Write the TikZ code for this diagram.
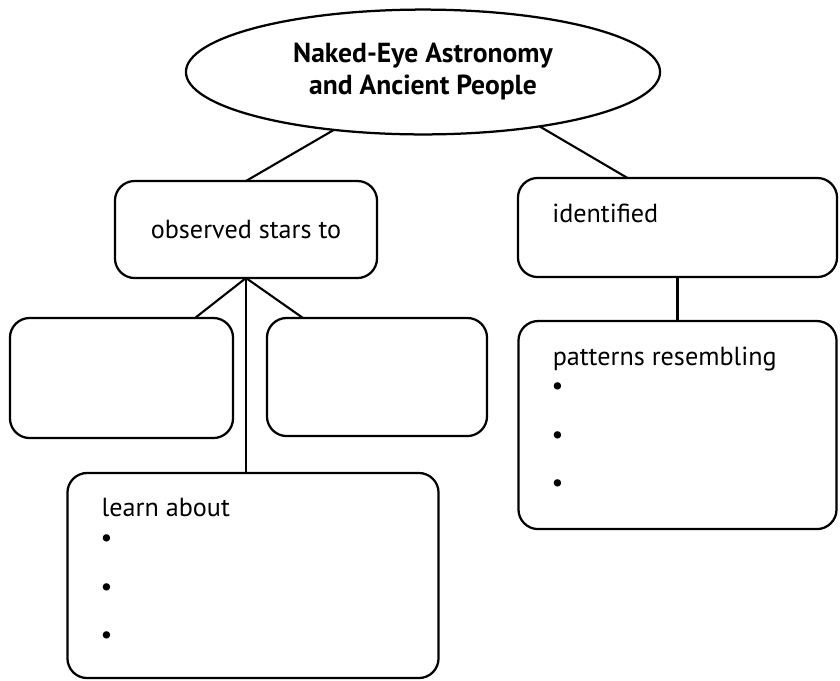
\documentclass[tikz,border=0pt]{standalone}
\usepackage{fontspec}
\setmainfont{PT Sans}
\usetikzlibrary{shapes.geometric, positioning, calc}

\begin{document}
\begin{tikzpicture}[
  x=0.025cm, y=-0.025cm,
  node distance=1.1cm,
  font=\fontsize{18.6}{21.5}\selectfont,
  topic/.style={ellipse, draw, line width=1.6pt, minimum width=11.85cm, minimum height=3.12cm,
              inner sep=0pt, outer sep=0pt, align=center, font=\fontsize{19.6}{22.8}\selectfont\bfseries},
  box/.style={rectangle, rounded corners=14pt, draw, line width=1.6pt, inner sep=0pt,
              outer sep=0pt, align=center},
  boxtxt/.style={anchor=base west, inner sep=0pt},
  dot/.style={inner sep=0pt},
  link/.style={line width=1.5pt},
]
\useasboundingbox (0,0) rectangle (840,680);

\node[topic] (title) at (423,72) {Naked-Eye Astronomy\\and Ancient People};

\node[box, minimum width=6.55cm, minimum height=2.425cm] (observed) at (246,229.5) {observed stars to};
\node[box, minimum width=7.975cm, minimum height=2.475cm] (identified) at (677.5,227.5) {};

\node[box, minimum width=5.575cm, minimum height=3cm] (leftblank) at (121.5,378) {};
\node[box, minimum width=5.5cm, minimum height=2.95cm] (rightblank) at (377,377) {};
\node[box, minimum width=9.275cm, minimum height=5.125cm] (learn) at (253,575.5) {};

\node[box, minimum width=7.95cm, minimum height=5.2cm, below=1.1cm of identified] (patterns) {};

% box texts
\node[boxtxt] (identtxt) at ($(identified.north west)+(0.85cm,-1.1cm)$) {identified};
\node[boxtxt] (patternstxt) at ($(patterns.north west)+(0.85cm,-1.1cm)$) {patterns resembling};
\node[boxtxt] (learntxt) at ($(learn.north west)+(0.85cm,-1.1cm)$) {learn about};

\foreach \k/\dy in {1/1.7, 2/2.925, 3/4.125} {
  \node[dot] (learnb\k) at ($(learn.north west)+(0.975cm,-\dy cm)$) {\textbullet};
  \node[dot] (patternsb\k) at ($(patterns.north west)+(0.975cm,-\dy cm)$) {\textbullet};
}

% connectors
\draw[link] (title.213) -- (observed.north);
\draw[link] (title.335) -- ($(identified.north)+(-1.25cm,0)$);
\draw[link] (observed.south) -- ($(leftblank.north east)+(-0.95cm,0)$);
\draw[link] (observed.south) -- ($(rightblank.north west)+(0.9cm,0)$);
\draw[link] (observed.south) -- (observed.south |- learn.north);
\draw[link] (identified.south) -- (patterns.north);

\end{tikzpicture}
\end{document}
